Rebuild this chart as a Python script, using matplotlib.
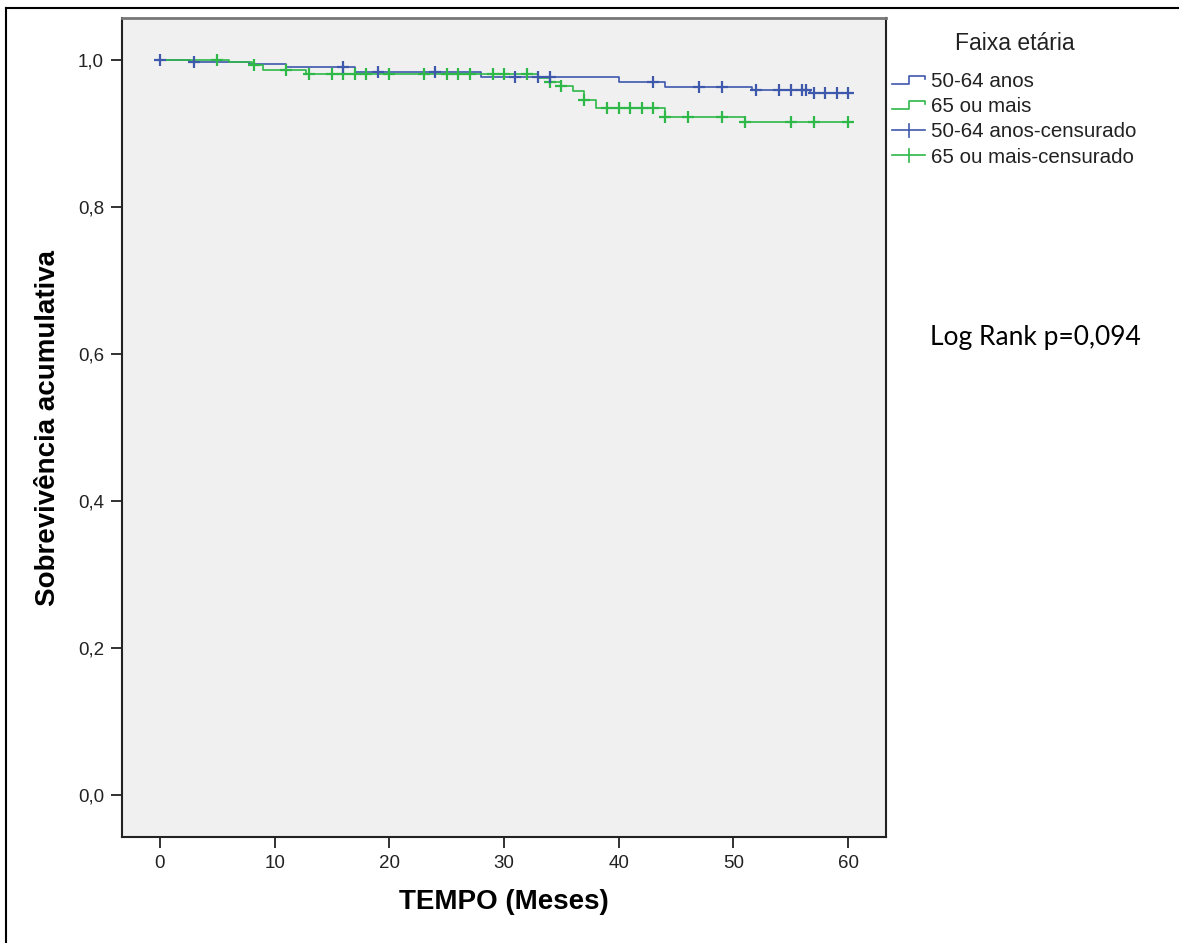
import numpy as np
import matplotlib
matplotlib.use('Agg')
import matplotlib.pyplot as plt
from matplotlib.lines import Line2D
from matplotlib.legend_handler import HandlerBase
from matplotlib.ticker import FuncFormatter

plt.rcParams['font.family'] = ['Liberation Sans', 'DejaVu Sans']

# Kaplan-Meier steps (time in months, cumulative survival)
blue_t = [0, 2.6, 7.8, 11, 17, 28, 40, 44, 51.6, 56.7, 60]
blue_s = [1.0, 0.9977, 0.9946, 0.990, 0.983, 0.977, 0.970, 0.963, 0.959, 0.955, 0.955]
blue_cens = [0, 3, 16, 19, 24, 31, 33, 34, 43, 47, 49, 52, 54, 55, 56, 56.3, 57, 58, 59, 60]

green_t = [0, 6, 8, 9, 12.7, 33, 34, 35, 36, 37, 38, 44, 51, 60]
green_s = [1.0, 0.9966, 0.993, 0.986, 0.981, 0.976, 0.970, 0.964, 0.958, 0.946, 0.934, 0.922, 0.915, 0.915]
green_cens = [5, 8.2, 11, 13, 15, 16, 17, 18, 20, 23, 25, 26, 27, 29, 30, 32, 34, 35, 37,
              39, 40, 41, 42, 43, 44, 46, 49, 51, 55, 57, 60]

legend_title = 'Faixa etária'
labels = ['50-64 anos', '65 ou mais', '50-64 anos-censurado', '65 ou mais-censurado']
col_blue = '#3E58AC'
col_green = '#2EB848'

xticks = [0, 10, 20, 30, 40, 50, 60]
yticks = [0.0, 0.2, 0.4, 0.6, 0.8, 1.0]


def surv_at(t, s, c):
    idx = np.searchsorted(t, c, side='right') - 1
    return np.asarray(s)[idx]


class StepHandler(HandlerBase):
    def create_artists(self, legend, orig_handle, xdescent, ydescent, width, height, fontsize, trans):
        x0, w = -xdescent, width
        lo, hi = -ydescent + 0.2 * height, -ydescent + 0.8 * height
        xs = [x0, x0 + 0.5 * w, x0 + 0.5 * w, x0 + w, x0 + w]
        ys = [lo, lo, hi, hi, 0.55 * (lo + hi)]
        ln = Line2D(xs, ys, color=orig_handle.get_color(), lw=1.2, transform=trans)
        return [ln]


class CensHandler(HandlerBase):
    def create_artists(self, legend, orig_handle, xdescent, ydescent, width, height, fontsize, trans):
        x0, w = -xdescent, width
        mid = -ydescent + 0.5 * height
        l1 = Line2D([x0, x0 + w], [mid, mid], color=orig_handle.get_color(), lw=1.2, transform=trans)
        l2 = Line2D([x0 + 0.5 * w] * 2, [mid - 0.45 * height, mid + 0.45 * height],
                    color=orig_handle.get_color(), lw=1.2, transform=trans)
        return [l1, l2]


fig = plt.figure(figsize=(11.79, 9.43), dpi=100)
ax = fig.add_axes([122 / 1179, 1 - 837 / 943, (886 - 122) / 1179, (837 - 18) / 943])
ax.set_facecolor('#F0F0F0')

h1, = ax.step(blue_t, blue_s, where='post', color=col_blue, lw=1.2)
h2, = ax.step(green_t, green_s, where='post', color=col_green, lw=1.2)
ax.plot(green_cens, surv_at(green_t, green_s, green_cens), ls='none', marker='+',
        ms=9, mew=1.6, color=col_green)
ax.plot(blue_cens, surv_at(blue_t, blue_s, blue_cens), ls='none', marker='+',
        ms=9, mew=1.6, color=col_blue)

ax.set_xlim(-3.3, 63.3)
ax.set_ylim(-0.057, 1.057)
ax.set_xticks(xticks)
ax.set_yticks(yticks)
ax.yaxis.set_major_formatter(FuncFormatter(lambda v, p: ('%.1f' % v).replace('.', ',')))
ax.tick_params(direction='out', length=8, width=1.3, labelsize=13.5, color='#222222',
               labelcolor='#222222', pad=5)
for side in ['left', 'bottom', 'right']:
    ax.spines[side].set_color('#222222')
    ax.spines[side].set_linewidth(1.5)
ax.spines['top'].set_color('#777777')
ax.spines['top'].set_linewidth(2)

ax.set_xlabel('TEMPO (Meses)', fontsize=20, fontweight='bold', labelpad=12)
ax.set_ylabel('Sobrevivência acumulativa', fontsize=20, fontweight='bold', labelpad=12)

# legend
fig.text(1015 / 1179, 1 - 43 / 943, legend_title, fontsize=16.5, ha='center', va='center',
         color='#222222')
hb = Line2D([], [], color=col_blue)
hg = Line2D([], [], color=col_green)
hbc = Line2D([], [], color=col_blue)
hgc = Line2D([], [], color=col_green)
leg = fig.legend([hb, hg, hbc, hgc], labels, loc='upper left',
                 bbox_to_anchor=(888 / 1179, 1 - 68 / 943), frameon=False,
                 fontsize=14.8, handlelength=1.6, handletextpad=0.3, labelspacing=0.3,
                 borderaxespad=0, borderpad=0.2,
                 handler_map={hb: StepHandler(), hg: StepHandler(),
                              hbc: CensHandler(), hgc: CensHandler()})
for txt in leg.get_texts():
    txt.set_color('#222222')

fig.text(930 / 1179, 1 - 338 / 943, 'Log Rank p=0,094', fontsize=19,
         family=['Lato', 'DejaVu Sans'], va='center', ha='left')

# outer frame
fig.add_artist(Line2D([6 / 1179, 6 / 1179], [0, 1 - 8 / 943], transform=fig.transFigure,
                      color='black', lw=1.5))
fig.add_artist(Line2D([6 / 1179, 1], [1 - 8 / 943, 1 - 8 / 943], transform=fig.transFigure,
                      color='black', lw=1.5))

fig.savefig('out.png', dpi=100)
